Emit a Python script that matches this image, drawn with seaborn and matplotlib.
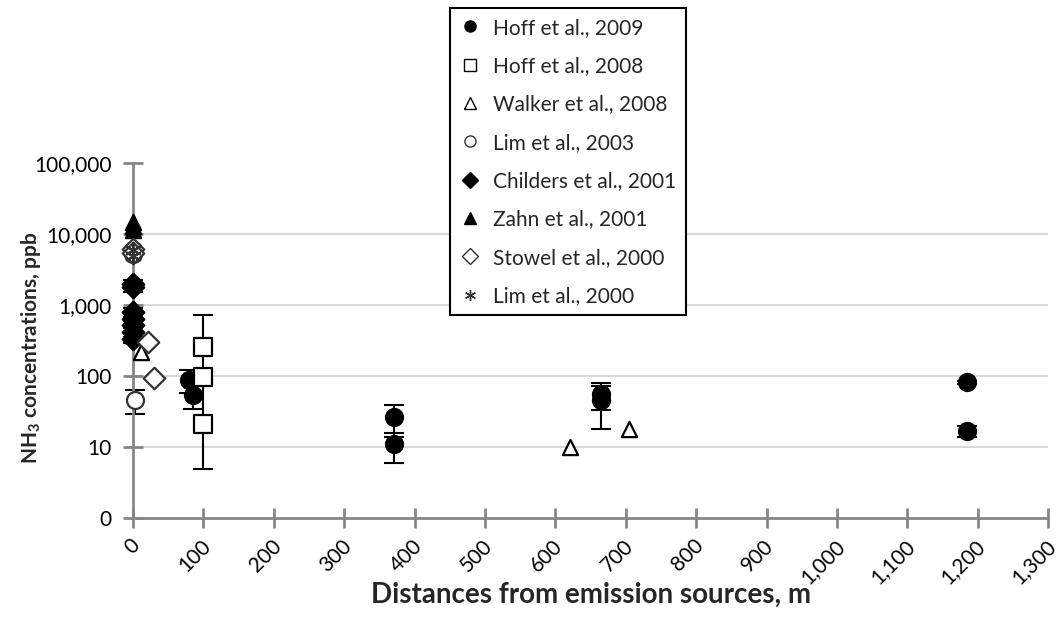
import matplotlib
matplotlib.use("Agg")
import matplotlib.pyplot as plt
import matplotlib.ticker as mticker
from matplotlib.lines import Line2D
from matplotlib.transforms import ScaledTranslation
import seaborn as sns

# --- data (x = distance m, y = NH3 ppb) ---
hoff09_x = [80, 85, 370, 370, 665, 665, 1185, 1185]
hoff09_y = [90, 55, 27, 11, 57, 46, 83, 17]
hoff09_err = [31, 20, 13, 5, 24, 28, 4, 3]

hoff08_x = [100, 100, 100]
hoff08_y = [260, 98, 21]
hoff08_err_lo = [0, 93, 0]
hoff08_err_hi = [0, 630, 0]

walker_x = [12, 620, 705]
walker_y = [220, 10, 18]

lim03_x = [3, 0, 0]
lim03_y = [47, 6000, 5200]
lim03_err = [18, 0, 0]

childers_x = [0, 0, 0, 0, 0, 0, 0]
childers_y = [2000, 1800, 800, 650, 520, 420, 340]
childers_err = [300, 250, 120, 100, 80, 60, 50]

zahn_x = [0, 0, 0, 0, 0, 0]
zahn_y = [15000, 13000, 11500, 700, 500, 380]

stowel_x = [0, 0, 22, 30]
stowel_y = [6200, 5500, 300, 94]

lim00_x = [0, 0]
lim00_y = [6000, 5000]

series = [
    ("Hoff et al., 2009", hoff09_x, hoff09_y, "o", "black", "black"),
    ("Hoff et al., 2008", hoff08_x, hoff08_y, "s", "white", "black"),
    ("Walker et al., 2008", walker_x, walker_y, "^", "white", "black"),
    ("Lim et al., 2003", lim03_x, lim03_y, "o", "white", "#333333"),
    ("Childers et al., 2001", childers_x, childers_y, "D", "black", "black"),
    ("Zahn et al., 2001", zahn_x, zahn_y, "^", "black", "black"),
    ("Stowel et al., 2000", stowel_x, stowel_y, "D", "white", "#333333"),
    ("Lim et al., 2000", lim00_x, lim00_y, (6, 2, 0), "#333333", "#333333"),
]

x_ticks = list(range(0, 1301, 100))
y_ticks = [1, 10, 100, 1000, 10000, 100000]

sns.set_style("white")
plt.rcParams["font.family"] = ["Lato", "DejaVu Sans"]
plt.rcParams["mathtext.fontset"] = "custom"
plt.rcParams["mathtext.rm"] = "Lato"
plt.rcParams["mathtext.bf"] = "Lato:bold"

fig = plt.figure(figsize=(10.58, 6.26), dpi=100)
ax = fig.add_axes([133 / 1058, 1 - 518.3 / 626, (1048.3 - 133) / 1058, (518.3 - 163.3) / 626])

# error bars first, markers drawn on top
eb_kw = dict(fmt="none", ecolor="black", elinewidth=1.5, capsize=7, capthick=1.5,
             zorder=2, clip_on=False)
ax.errorbar(hoff09_x, hoff09_y, yerr=hoff09_err, **eb_kw)
ax.errorbar(hoff08_x, hoff08_y, yerr=[hoff08_err_lo, hoff08_err_hi], **eb_kw)
ax.errorbar(lim03_x, lim03_y, yerr=lim03_err, **eb_kw)
ax.errorbar(childers_x, childers_y, yerr=childers_err, **eb_kw)

for label, xs, ys, mk, fc, ec in series:
    size = 150 if mk in ("o", "s") else 120
    sns.scatterplot(x=xs, y=ys, marker=mk, s=size, color=fc, edgecolor=ec,
                    linewidth=1.6, ax=ax, zorder=3, legend=False, clip_on=False)

ax.set_yscale("log")
ax.set_xlim(0, 1300)
ax.set_ylim(1, 100000)
ax.set_xticks(x_ticks)
ax.set_yticks(y_ticks)
ax.yaxis.set_minor_locator(mticker.NullLocator())
ax.xaxis.set_major_formatter(mticker.FuncFormatter(lambda v, p: f"{int(v):,}"))
ax.yaxis.set_major_formatter(mticker.FuncFormatter(
    lambda v, p: "0" if v <= 1 else f"{int(round(v)):,}"))

ax.yaxis.grid(True, color="#d9d9d9", linewidth=1.5)
for val, gl in zip(y_ticks, ax.get_ygridlines()):
    if val in (1, 100000):
        gl.set_visible(False)
ax.set_axisbelow(True)

for side in ("top", "right"):
    ax.spines[side].set_visible(False)
for side in ("left", "bottom"):
    ax.spines[side].set_color("#868686")
    ax.spines[side].set_linewidth(2)

ax.tick_params(axis="both", direction="inout", length=15, width=2, color="#868686",
               labelsize=15, labelcolor="black", bottom=True, left=True)
ax.tick_params(axis="y", pad=8)
ax.tick_params(axis="x", pad=10)
plt.setp(ax.get_xticklabels(), rotation=45, ha="right", va="center", rotation_mode="anchor")
for lab in ax.get_xticklabels():
    lab.set_transform(lab.get_transform() + ScaledTranslation(3 / 72, 0, fig.dpi_scale_trans))

ax.set_xlabel("Distances from emission sources, m", fontsize=20, fontweight="bold", labelpad=-4)
ax.set_ylabel(r"NH$_\mathbf{3}$ concentrations, ppb", fontsize=15, fontweight="bold")
ax.yaxis.set_label_coords(-0.098, 0.48)

handles = []
for label, xs, ys, mk, fc, ec in series:
    handles.append(Line2D([], [], linestyle="none", marker=mk, markersize=8,
                          markerfacecolor=fc, markeredgecolor=ec, markeredgewidth=1.0,
                          color=ec, label=label))
leg = fig.legend(handles=handles, loc="upper left", bbox_to_anchor=(450 / 1058, 1 - 8.3 / 626),
                 bbox_transform=fig.transFigure, borderaxespad=0, fontsize=15,
                 frameon=True, fancybox=False, edgecolor="black", framealpha=1,
                 handlelength=1.0, handletextpad=0.62, borderpad=0.45, labelspacing=0.88)
leg.get_frame().set_linewidth(1.5)

fig.savefig("out.png", dpi=100)
